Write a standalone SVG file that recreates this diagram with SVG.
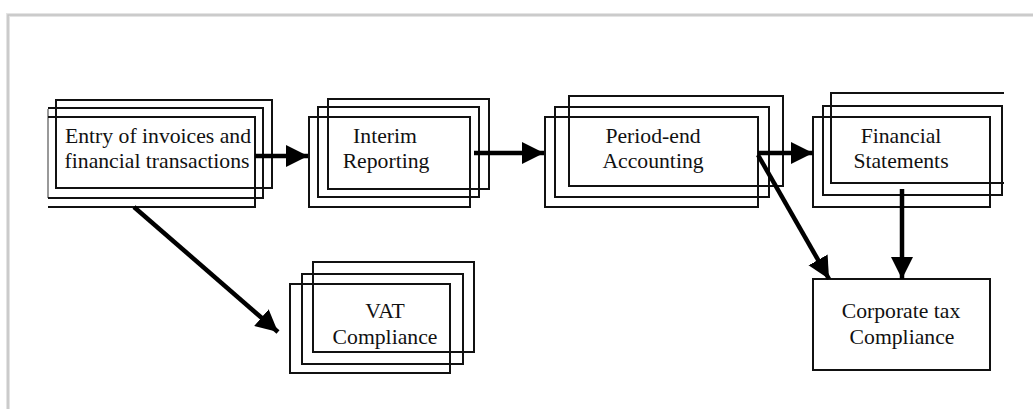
<svg xmlns="http://www.w3.org/2000/svg" width="1033" height="409" viewBox="0 0 1033 409">
  <defs>
    <marker id="ah" markerUnits="userSpaceOnUse" markerWidth="24" markerHeight="24" viewBox="0 0 24 24" refX="22" refY="12" orient="auto">
      <path d="M0,1 L22,12 L0,23 Z" fill="#000"/>
    </marker>
    <style>
      .b{fill:none;stroke:#111;stroke-width:2}
      .g{fill:none;stroke:#777;stroke-width:1.5}
      .t{font-family:"Liberation Serif","Times New Roman",serif;font-size:21.7px;fill:#111;text-anchor:middle}
      .c{fill:none;stroke:#000;stroke-width:4.5;marker-end:url(#ah)}
    </style>
  </defs>
  <rect width="1033" height="409" fill="#fff"/>
  <g id="frame">
    <path d="M8,409 V15 H1033" fill="none" stroke="#e4e4e4" stroke-width="4"/>
    <path d="M8,409 V15 H1033" fill="none" stroke="#c2c2c2" stroke-width="1.5"/>
  </g>
  <g id="node-entry">
    <rect class="b" x="56" y="100" width="216" height="88"/>
    <path class="g" d="M48,109 V198"/>
    <path class="b" d="M48,108 H263 V198 H48"/>
    <path class="b" d="M48,117 H255 V207 H48"/>
    <text class="t" x="158" y="143">Entry of invoices and</text>
    <text class="t" x="157" y="168">financial transactions</text>
  </g>
  <g id="node-interim">
    <rect class="b" x="328" y="99" width="161" height="90"/>
    <rect class="b" x="318" y="107" width="161" height="90"/>
    <rect class="b" x="309" y="117" width="161" height="90"/>
    <text class="t" x="385" y="143">Interim</text>
    <text class="t" x="386" y="168">Reporting</text>
  </g>
  <g id="node-period">
    <rect class="b" x="569" y="96" width="214" height="90"/>
    <rect class="b" x="555" y="107" width="214" height="90"/>
    <rect class="b" x="545" y="117" width="213" height="90"/>
    <text class="t" x="653" y="143">Period-end</text>
    <text class="t" x="653" y="168">Accounting</text>
  </g>
  <g id="node-financial">
    <path class="b" d="M1004,93 H831 V183 H1004"/>
    <rect class="b" x="823" y="106" width="179" height="89"/>
    <rect class="b" x="813" y="117" width="177" height="90"/>
    <text class="t" x="901" y="143">Financial</text>
    <text class="t" x="901" y="168">Statements</text>
  </g>
  <g id="node-vat">
    <rect class="b" x="313" y="262" width="161" height="90"/>
    <rect class="b" x="302" y="274" width="161" height="90"/>
    <rect class="b" x="290" y="284" width="160" height="89"/>
    <text class="t" x="385" y="318">VAT</text>
    <text class="t" x="385" y="344">Compliance</text>
  </g>
  <g id="node-corporate">
    <rect class="b" x="813" y="279" width="177" height="91"/>
    <text class="t" x="901" y="318">Corporate tax</text>
    <text class="t" x="902" y="344">Compliance</text>
  </g>
  <g id="connectors">
    <line class="c" x1="255" y1="156" x2="308" y2="156"/>
    <line class="c" x1="474" y1="153" x2="544" y2="153"/>
    <line class="c" x1="758" y1="153" x2="813" y2="153"/>
    <line class="c" x1="758" y1="155" x2="829" y2="279"/>
    <line class="c" x1="902" y1="189" x2="902" y2="279"/>
    <line class="c" x1="134" y1="207" x2="278" y2="332"/>
  </g>
</svg>
